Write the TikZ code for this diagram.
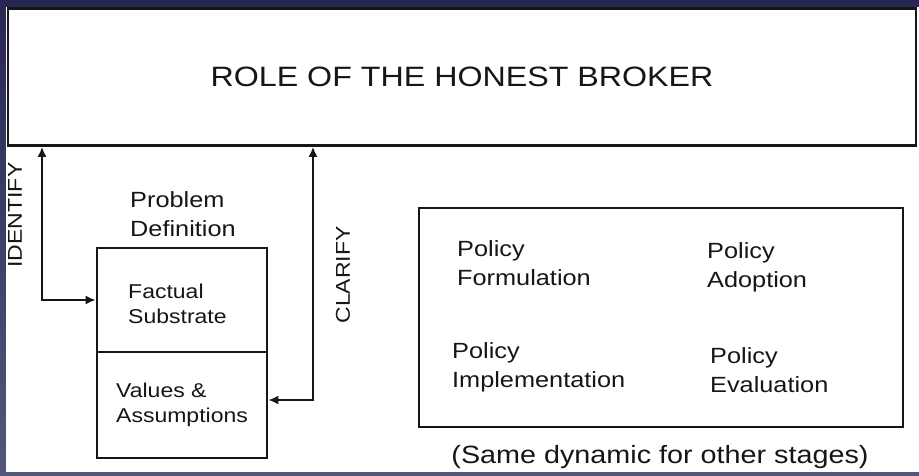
\documentclass[tikz,border=0pt]{standalone}
\usepackage{fontspec}
\setmainfont{Liberation Sans}[FakeStretch=1.15]
\usetikzlibrary{arrows.meta}
\definecolor{navytop}{RGB}{40,38,82}
\definecolor{navybot}{RGB}{84,87,124}
\definecolor{ink}{RGB}{22,22,22}
\begin{document}
\begin{tikzpicture}[x=1pt,y=-1pt,
  boxline/.style={draw=ink, line width=2.6pt, inner sep=0pt},
  conn/.style={draw=ink, line width=2.3pt, {Latex[length=10pt,width=9pt]}-{Latex[length=10pt,width=9pt]}},
  lbl/.style={inner sep=0pt, align=left, anchor=north west, text=ink},
  biglbl/.style={lbl, font=\fontsize{22}{29}\selectfont},
  smalllbl/.style={lbl, font=\fontsize{20}{25}\selectfont},
  vlbl/.style={inner sep=0pt, rotate=90, text=ink, font=\fontsize{20}{24}\selectfont}
]
\useasboundingbox (0,0) rectangle (919,475);
\shade[top color=navytop, bottom color=navybot] (0,0) rectangle (919,475);
\fill[white] (6,7) rectangle (919,472);

\node[boxline, minimum width=908pt, minimum height=137pt, font=\fontsize{28}{30}\selectfont, text=ink] (title) at (462,77) {ROLE OF THE HONEST BROKER};

\node[boxline, minimum width=170pt, minimum height=104pt] (fact) at (182,300) {};
\node[boxline, minimum width=170pt, minimum height=106pt] (values) at (182,405) {};
\node[boxline, minimum width=484pt, minimum height=219pt] (policy) at (661,317.5) {};

\node[biglbl] (probdef) at (130,191) {Problem\\Definition};
\node[smalllbl] (facttxt) at (128,284) {Factual\\Substrate};
\node[smalllbl] (valtxt) at (116,383) {Values \&\\Assumptions};

\node[biglbl] (pform) at (457,240) {Policy\\Formulation};
\node[biglbl] (padopt) at (707,242) {Policy\\Adoption};
\node[biglbl] (pimpl) at (452,342) {Policy\\Implementation};
\node[biglbl] (peval) at (710,347) {Policy\\Evaluation};

\node[inner sep=0pt, text=ink, font=\fontsize{25}{28}\selectfont] (same) at (660,457) {(Same dynamic for other stages)};

\node[vlbl] (identify) at (15,215) {IDENTIFY};
\node[vlbl] (clarify) at (343,275) {CLARIFY};

\coordinate (idc) at (42,300);
\coordinate (clc) at (313,400);
\draw[conn] (title.south -| idc) |- (fact.west);
\draw[conn] (title.south -| clc) |- ([yshift=5pt]values.east);
\end{tikzpicture}
\end{document}
